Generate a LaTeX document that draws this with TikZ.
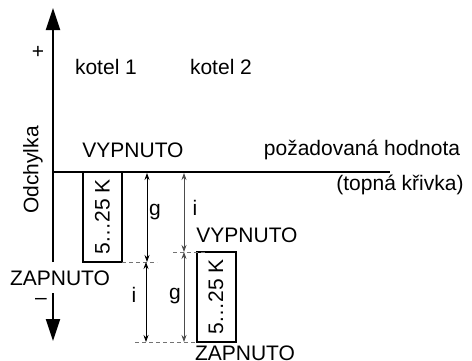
\documentclass[tikz,border=0pt]{standalone}
\usepackage{fontspec}
\setmainfont{Liberation Sans}
\usetikzlibrary{arrows.meta}
\begin{document}
\begin{tikzpicture}[x=1pt,y=-1pt,
  every node/.style={inner sep=0pt,font=\fontsize{21}{25}\selectfont},
  axis/.style={line width=2pt,-{Triangle[width=14pt,length=22pt]}},
  kbox/.style={draw,line width=2pt,minimum width=39pt,minimum height=90pt},
  dim/.style={line width=0.8pt,{Stealth[length=7pt,width=5pt]}-{Stealth[length=7pt,width=5pt]}},
  dimg/.style={dim,draw=black!70},
  guide/.style={dashed,draw=black!55,line width=1pt,dash pattern=on 4pt off 3pt}]
\useasboundingbox (0,0) rectangle (472,360);
% axis
\coordinate (a0) at (53,262);
\coordinate (a1) at (53,8);
\coordinate (b0) at (53,293);
\coordinate (b1) at (53,341);
\draw[axis] (a0) -- (a1);
\draw[axis] (b0) -- (b1);
\coordinate (h0) at (52,172);
\coordinate (h1) at (390,172);
\draw[line width=2pt] (h0) -- (h1);
% labels
\node (plus) at (38,52) {+};
\node[font=\fontsize{21}{21}\selectfont] (minus) at (41,303) {\raisebox{0pt}[0.3ex][0pt]{–}};
\node[rotate=90] (odch) at (33,170) {Odchylka};
\node (k1) at (106,67) {kotel 1};
\node (k2) at (221,67) {kotel 2};
\node (vyp1) at (133,150) {VYPNUTO};
\node (poz) at (362,150) {požadovaná hodnota};
\node (topna) at (400,185) {(topná křivka)};
\node (zap1) at (60,278) {ZAPNUTO};
\node (vyp2) at (247,235) {VYPNUTO};
\node (zap2) at (245,353) {ZAPNUTO};
% boxes
\node[kbox] (box1) at (102.5,217) {};
\node[rotate=90] at (box1.center) {5…25 K};
\node[kbox] (box2) at (216,297) {};
\node[rotate=90] at (box2.center) {5…25 K};
% guides
\coordinate (d1a) at (122,262);
\coordinate (d1b) at (157,262);
\draw[guide] (d1a) -- (d1b);
\coordinate (d2a) at (173,252);
\coordinate (d2b) at (205,252);
\draw[guide] (d2a) -- (d2b);
\coordinate (d3a) at (135,342);
\coordinate (d3b) at (197,342);
\draw[guide] (d3a) -- (d3b);
% dimension arrows
\coordinate (g1t) at (147,173);
\coordinate (g1b) at (147,262);
\draw[dim] (g1t) -- (g1b);
\node (g1) at (155,212) {g};
\coordinate (i1t) at (184,173);
\coordinate (i1b) at (184,252);
\draw[dimg] (i1t) -- (i1b);
\node (i1) at (195,208) {i};
\coordinate (i2t) at (146,262);
\coordinate (i2b) at (146,342);
\draw[dim] (i2t) -- (i2b);
\node (i2) at (134,295) {i};
\coordinate (g2t) at (184,252);
\coordinate (g2b) at (184,342);
\draw[dimg] (g2t) -- (g2b);
\node (g2) at (175,296) {g};
\end{tikzpicture}
\end{document}
